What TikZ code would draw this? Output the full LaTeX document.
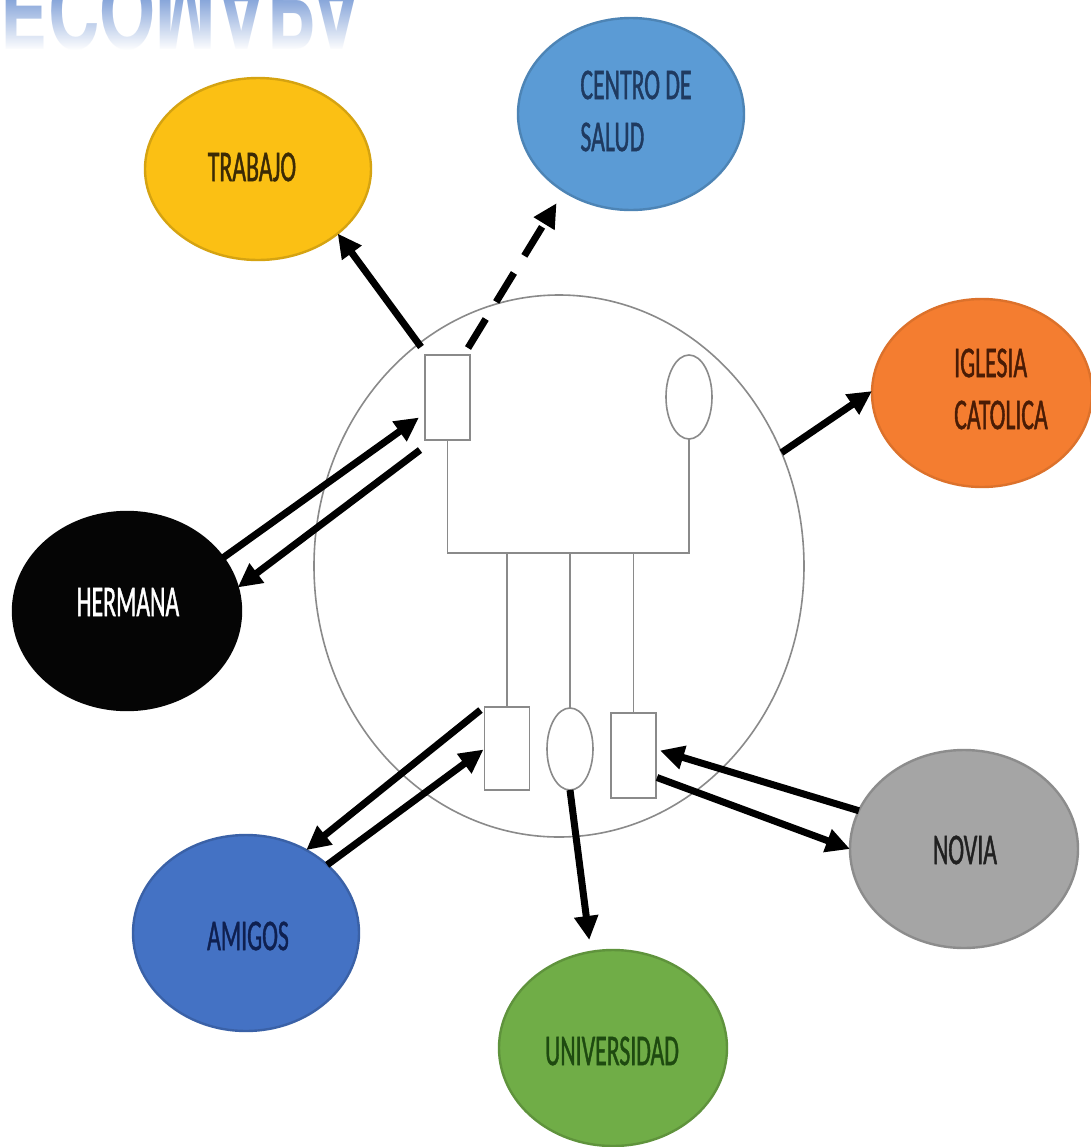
\documentclass[tikz,border=0pt]{standalone}
\usepackage{fontspec}
\usepackage{graphicx}
\newfontfamily\lblfont[FakeStretch=0.54,FakeBold=0.9]{Carlito}
\newfontfamily\ttlfont{TeX Gyre Heros}
\usetikzlibrary{arrows.meta,shapes.geometric,calc,fadings}
\definecolor{famgray}{HTML}{8A8A8A}
\definecolor{ttlblue}{HTML}{5A84CC}
\definecolor{cTrab}{HTML}{FBC014}
\definecolor{cTrabT}{HTML}{3B2A05}
\definecolor{cCentro}{HTML}{5B9BD5}
\definecolor{cCentroT}{HTML}{1F3A60}
\definecolor{cIgl}{HTML}{F47D30}
\definecolor{cIglT}{HTML}{4A1C05}
\definecolor{cHer}{HTML}{050505}
\definecolor{cAmi}{HTML}{4472C4}
\definecolor{cAmiT}{HTML}{0F2050}
\definecolor{cUni}{HTML}{70AD47}
\definecolor{cUniT}{HTML}{1E4A10}
\definecolor{cNov}{HTML}{A5A5A5}
\definecolor{cNovT}{HTML}{202020}
\begin{document}
\begin{tikzpicture}[x=0.5pt,y=-0.5pt,
  ell/.style={ellipse, inner sep=0pt, outer sep=0pt},
  ext/.style={ell, line width=1.2pt},
  lbl/.style={font={\lblfont\fontsize{22}{26}\selectfont}, align=left, inner sep=0pt},
  fam/.style={draw=famgray, line width=0.8pt},
  box/.style={rectangle, fam, fill=white, minimum width=22.5pt, inner sep=0pt, outer sep=0pt},
  kid/.style={ell, fam, fill=white, minimum width=23pt},
  rel/.style={line width=3.5pt, -{Triangle[length=12pt,width=11.5pt]}},
]
\useasboundingbox (0,0) rectangle (1091,1147);
\fill[white] (0,0) rectangle (1091,1147);

% title reflection (cut off at the top)
\begin{scope}
\clip (0,0) rectangle (1091,62);
\node[anchor=base west, inner sep=0pt, text=ttlblue] (title) at (0,-27)
  {\scalebox{0.69}[-1]{\ttlfont\bfseries\fontsize{52}{52}\selectfont ECOMAPA}};
\fill[white, path fading=north] (0,-20) rectangle (1091,50);
\fill[white] (0,50) rectangle (1091,62);
\end{scope}

% household
\node[ell, fam, minimum width=245pt, minimum height=271pt] (family) at (559,566) {};
\node[box, minimum height=42.5pt] (father) at (447.5,397.5) {};
\node[kid, minimum height=42pt] (mother) at (689,397) {};
\node[box, minimum height=41.5pt] (child1) at (507,748.5) {};
\node[kid, minimum height=41pt] (child2) at (570,749) {};
\node[box, minimum height=42.5pt] (child3) at (633.5,755.5) {};
\coordinate (bar) at (447,553);
\draw[fam] (father.south) -- (father.south |- bar) -- (mother.south |- bar) -- (mother.south);
\draw[fam] (child1.north |- bar) -- (child1.north);
\draw[fam] (child2.north |- bar) -- (child2.north);
\draw[fam] (child3.north |- bar) -- (child3.north);

% outer systems
\node[ext, fill=cTrab, draw=cTrab!85!black, minimum width=113pt, minimum height=91pt] (trabajo) at (258,169) {};
\node[lbl, text=cTrabT] (trabajoT) at (252,167) {TRABAJO};
\node[ext, fill=cCentro, draw=cCentro!85!black, minimum width=113pt, minimum height=96pt] (centro) at (631,114) {};
\node[lbl, text=cCentroT] (centroT) at (636,111) {CENTRO DE\\SALUD};
\node[ext, fill=cIgl, draw=cIgl!90!black, minimum width=110pt, minimum height=94pt] (iglesia) at (982,393) {};
\node[lbl, text=cIglT] (iglesiaT) at (1001,389) {IGLESIA\\CATOLICA};
\node[ext, fill=cHer, draw=cHer, minimum width=114pt, minimum height=99pt] (hermana) at (127,611) {};
\node[lbl, text=white] (hermanaT) at (128,602) {HERMANA};
\node[ext, fill=cAmi, draw=cAmi!85!black, minimum width=113pt, minimum height=98pt] (amigos) at (246,933) {};
\node[lbl, text=cAmiT] (amigosT) at (248,936) {AMIGOS};
\node[ext, fill=cUni, draw=cUni!85!black, minimum width=114pt, minimum height=98pt] (univ) at (613,1048) {};
\node[lbl, text=cUniT] (univT) at (612,1051) {UNIVERSIDAD};
\node[ext, fill=cNov, draw=cNov!85!black, minimum width=114pt, minimum height=99pt] (novia) at (964,849) {};
\node[lbl, text=cNovT] (noviaT) at (965,850) {NOVIA};

% relations
\draw[rel] ($(father.north west)+(-4,-8)$) -- (trabajo.-39);
\draw[rel, dash pattern=on 17pt off 10pt, shorten >=7pt] ($(father.north east)+(-2,-7)$) -- (centro.229);
\draw[rel] (family.27) -- (iglesia.179);
\draw[rel] (hermana.29) -- ($(father.west)+(-6,20)$);
\draw[rel] ($(father.south west)+(-5,10)$) -- (hermana.12);
\draw[rel] ($(child1.north west)+(-4,3)$) -- (amigos.54);
\draw[rel] (amigos.40) -- ($(child1.west)+(-1,1)$);
\draw[rel, shorten >=6pt] (child2.south) -- (univ.103);
\draw[rel] (novia.160) -- ($(child3.east)+(4,-5)$);
\draw[rel] ($(child3.east)+(1,22)$) -- (novia.180);
\end{tikzpicture}
\end{document}
